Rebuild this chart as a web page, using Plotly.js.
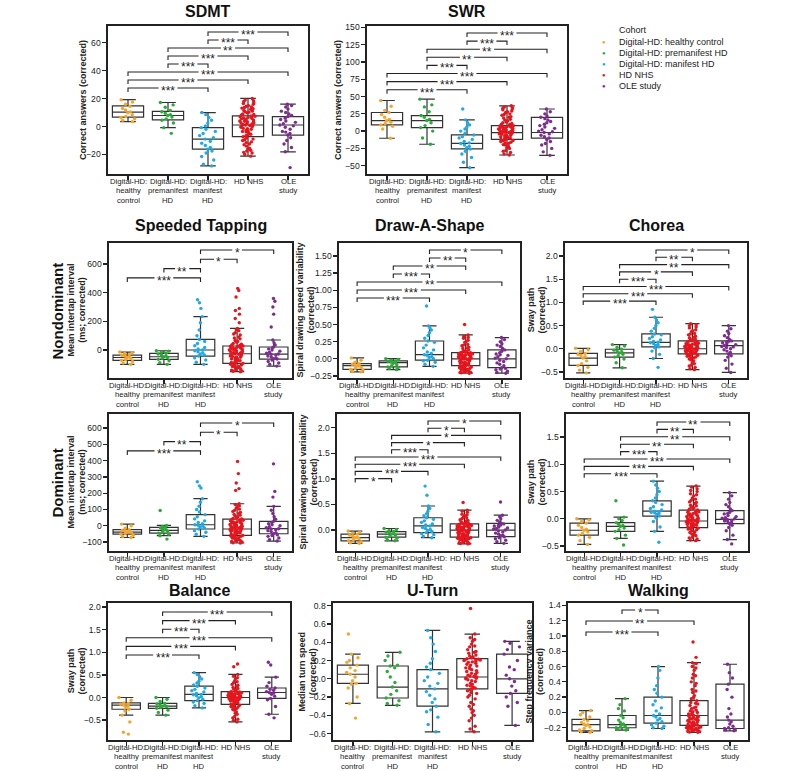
<!DOCTYPE html>
<html><head><meta charset="utf-8">
<script src="https://cdn.plot.ly/plotly-3.0.1.min.js"></script>
<style>html,body{margin:0;padding:0;background:#fff}#chart{width:800px;height:771px}</style>
</head><body><div id="chart"></div>
<script>
// ---------- data ----------
const cohorts = ['Digital-HD: healthy control','Digital-HD: premanifest HD','Digital-HD: manifest HD','HD NHS','OLE study'];
const tickLabels = ['Digital-HD:<br>healthy<br>control','Digital-HD:<br>premanifest<br>HD','Digital-HD:<br>manifest<br>HD','HD NHS','OLE<br>study'];
const cohortColors = ['#F5A52A','#2FA83A','#22A8E2','#E6151D','#7B2D8D'];

// box statistics per cohort: [lower whisker, Q1, median, Q3, upper whisker]
const sdmtBox = [[3.5,6.7,10.3,14.8,19.2],[-0.8,4.7,7.9,10.8,17.2],[-28.2,-16.2,-9,-0.8,10],[-21.2,-7.3,1.1,7.6,20.1],[-18.1,-6.1,1.1,7.1,16]];
const sdmtPoints = [
 [3.5,4.5,5.5,6.5,7.2,8.5,9.8,10.5,11.8,13.0,14.5,16.0,17.5,19.2],
 [-4.9,-0.8,2.5,4.5,5.5,6.8,7.9,8.5,9.5,10.6,11.5,13.8,15.5,17.2],
 [-28.2,-27,-24,-21.5,-19,-17.5,-16.2,-15,-13.5,-12,-10.5,-9,-8,-6.5,-5,-3.5,-2,-0.8,0.5,2.5,4.5,6.5,8.5,10],
 [-21.2,-20,-18.5,-17,-15.5,-14,-12.5,-11,-10,-9,-8.2,-7.3,-6.5,-5.5,-4.5,-3.5,-2.8,-2,-1.2,-0.5,0.2,0.8,1.1,1.6,2.2,2.8,3.4,4,4.6,5.2,5.8,6.4,7,7.6,8.3,9,9.8,10.6,11.5,12.3,13.2,14,15,16,17,18,19,20.1,-16,13.6,
  -19,-17.5,-13,-11.5,-9.5,-6,-4,-3,-1.5,0,0.5,1.4,2.5,3.1,3.7,4.3,5.5,6.1,6.7,7.3,8.7,10.2,11,12.8,14.5,16.5,18.5],
 [-29.4,-18.1,-15,-12.5,-10,-8,-6.1,-5,-3.5,-2,-0.5,0.5,1.1,2,3,4,5,6,7.1,8,9,10,11,12.5,14,15,16,-4]
];
const sdmtSig = [[2,4,'***'],[2,3,'***'],[1,4,'**'],[1,3,'***'],[1,2,'***'],[0,4,'***'],[0,3,'***'],[0,2,'***']];

const swrBox = [[-10.3,9,15.3,26.9,44.3],[-19,5.1,15.3,22.5,46.2],[-52.9,-25.8,-17.6,-5.5,16.3],[-34.5,-11.8,-2.1,8,36.6],[-35,-10,-2,20,32]];
const swrPoints = [
 [-10.3,3,7,9,11,13,15.3,17,20,24,27,30,36,44.3],
 [-19,-10,0,5.1,8,12,15.3,17,20,22.5,28,35,38,46.2],
 [-52.9,-45,-38,-33,-29,-26,-24,-22,-20,-18,-17,-15,-12,-10,-8,-5.5,-3,0,3,6,9,12,16.3,32],
 [-34.5,-31,-28,-25,-22,-19.5,-17,-15,-13.5,-12,-11,-10,-9,-8,-7,-6,-5,-4,-3,-2.1,-1.5,-0.5,0.5,1.5,2.5,3.5,4.5,5.5,6.5,8,9.5,11,13,15,17,19,21,23,25,27,29,31,33,35,36.6,-20,-14,0,4,7,
  -33,-29,-24,-18,-16,-12.5,-10.5,-8.5,-6.5,-4.5,-3.5,-2.5,-1,1,2,3,5,6,7.5,10,12,16,20,24,28,32,34],
 [-35,-30,-25,-20,-15,-12,-10,-8,-6,-4,-2,-1,0,2,4,6,8,10,12,14,16,18,20,22,25,28,32,-18]
];
const swrSig = [[2,4,'***'],[2,3,'***'],[1,4,'**'],[1,3,'**'],[1,2,'***'],[0,4,'***'],[0,3,'***'],[0,2,'***']];

const tapNdBox = [[-100,-72,-52,-36,-14],[-100,-65,-47,-23,-5],[-100,-42,0,74,233],[-151,-93,-26,28,151],[-112,-63,-28,21,70]];
const tapNdPoints = [
 [-100,-90,-80,-72,-66,-58,-52,-47,-42,-36,-30,-24,-18,-14],
 [-100,-88,-75,-65,-58,-52,-47,-42,-35,-28,-23,-15,-8,-5],
 [-100,-85,-70,-55,-42,-35,-28,-20,-12,-5,0,8,18,30,45,60,74,100,140,190,233,290,330,350],
 [-151,-145,-138,-130,-122,-115,-108,-100,-93,-86,-78,-70,-62,-55,-48,-42,-36,-30,-26,-20,-14,-8,-2,4,10,16,22,28,36,45,55,66,78,90,105,120,135,151,190,220,250,275,290,370,415,430,-120,-75,-40,0,
  -148,-140,-126,-112,-104,-96,-89,-82,-66,-58,-51,-45,-33,-23,-17,-11,-5,2,7,13,19,25,32,40,60,84,112,142],
 [-112,-100,-90,-80,-70,-63,-55,-48,-42,-35,-28,-22,-15,-8,0,8,15,21,35,50,70,160,250,300,340,360,-60,-30]
];
const tapNdSig = [[2,4,'*'],[2,3,'*'],[1,2,'**'],[0,2,'***']];

const shapeNdBox = [[-0.19,-0.153,-0.10,-0.07,0.013],[-0.158,-0.118,-0.055,-0.03,0.003],[-0.11,-0.02,0.06,0.26,0.48],[-0.21,-0.1,0.0,0.09,0.35],[-0.21,-0.13,0.0,0.13,0.31]];
const shapeNdPoints = [
 [-0.19,-0.18,-0.165,-0.153,-0.14,-0.125,-0.11,-0.10,-0.09,-0.08,-0.07,-0.05,-0.02,0.013],
 [-0.158,-0.14,-0.128,-0.118,-0.1,-0.085,-0.07,-0.055,-0.045,-0.038,-0.03,-0.02,-0.01,0.003],
 [-0.11,-0.08,-0.05,-0.03,-0.02,0.0,0.02,0.03,0.05,0.06,0.08,0.1,0.13,0.16,0.2,0.24,0.26,0.3,0.34,0.38,0.42,0.45,0.48,0.77],
 [-0.21,-0.2,-0.19,-0.18,-0.17,-0.16,-0.15,-0.14,-0.13,-0.12,-0.11,-0.1,-0.09,-0.08,-0.07,-0.06,-0.05,-0.04,-0.03,-0.02,-0.01,0.0,0.0,0.01,0.02,0.03,0.04,0.05,0.06,0.07,0.08,0.09,0.1,0.11,0.13,0.15,0.17,0.19,0.21,0.24,0.27,0.3,0.33,0.35,0.5,-0.12,-0.06,0.02,0.06,-0.2,
  -0.205,-0.185,-0.165,-0.145,-0.125,-0.105,-0.085,-0.065,-0.045,-0.025,-0.005,0.005,0.015,0.025,0.035,0.045,0.055,0.065,0.075,0.085,0.095,0.12,0.16,0.2,0.25,0.31],
 [-0.21,-0.2,-0.18,-0.16,-0.14,-0.13,-0.1,-0.08,-0.06,-0.04,-0.02,0.0,0.01,0.03,0.05,0.07,0.09,0.11,0.13,0.15,0.18,0.2,0.22,0.25,0.28,0.31,-0.15,0.06]
];
const shapeNdSig = [[2,4,'*'],[2,3,'**'],[1,3,'**'],[1,2,'***'],[0,4,'**'],[0,3,'***'],[0,2,'***']];

const choreaNdBox = [[-0.52,-0.36,-0.2,-0.1,0.01],[-0.41,-0.18,-0.09,-0.01,0.09],[-0.21,0.04,0.14,0.32,0.68],[-0.45,-0.11,0.0,0.17,0.54],[-0.51,-0.11,0.07,0.17,0.5]];
const choreaNdPoints = [
 [-0.52,-0.46,-0.4,-0.36,-0.32,-0.26,-0.2,-0.17,-0.14,-0.12,-0.1,-0.06,-0.02,0.01],
 [-0.41,-0.3,-0.22,-0.18,-0.15,-0.12,-0.09,-0.07,-0.05,-0.03,-0.01,0.03,0.06,0.09],
 [-0.40,-0.21,-0.12,-0.05,0.02,0.04,0.07,0.09,0.11,0.13,0.14,0.16,0.19,0.22,0.26,0.3,0.32,0.38,0.44,0.5,0.56,0.62,0.68,0.85],
 [-0.45,-0.4,-0.35,-0.3,-0.26,-0.22,-0.19,-0.16,-0.14,-0.12,-0.11,-0.1,-0.08,-0.07,-0.06,-0.05,-0.04,-0.03,-0.02,-0.01,0.0,0.01,0.02,0.03,0.04,0.05,0.06,0.07,0.08,0.09,0.1,0.12,0.14,0.15,0.17,0.19,0.21,0.24,0.27,0.3,0.33,0.37,0.41,0.45,0.5,0.54,-0.2,-0.09,0.02,0.11,
  -0.43,-0.37,-0.32,-0.24,-0.18,-0.15,-0.13,-0.105,-0.085,-0.065,-0.045,-0.025,-0.005,0.015,0.035,0.055,0.075,0.095,0.13,0.16,0.2,0.25,0.32,0.39,0.47,0.52],
 [-0.51,-0.42,-0.33,-0.25,-0.18,-0.11,-0.08,-0.05,-0.02,0.0,0.03,0.05,0.07,0.09,0.11,0.13,0.15,0.17,0.2,0.24,0.28,0.33,0.38,0.43,0.5,-0.15,0.04,0.16]
];
const choreaNdSig = [[2,4,'*'],[2,3,'**'],[1,4,'**'],[1,3,'*'],[1,2,'***'],[0,4,'***'],[0,3,'***'],[0,2,'***']];

const tapDBox = [[-72,-51,-39,-24,10],[-61,-45,-28,-10,2],[-65,-20,6,68,166],[-106,-59,-20,41,135],[-94,-49,-18,27,119]];
const tapDPoints = [
 [-72,-66,-58,-51,-47,-43,-39,-36,-32,-28,-24,-15,0,10],
 [-82,-61,-52,-45,-40,-34,-28,-24,-18,-13,-10,-4,2,94],
 [-65,-52,-40,-30,-20,-14,-8,-2,3,6,12,20,30,42,55,68,85,100,120,145,166,232,245,270],
 [-106,-100,-94,-88,-82,-76,-70,-64,-59,-54,-49,-44,-40,-36,-32,-28,-24,-20,-16,-12,-8,-4,0,5,10,15,20,25,30,36,41,50,60,70,82,95,110,122,135,217,228,262,320,395,-90,-65,-30,-10,18,45,
  -104,-97,-85,-73,-61,-52,-46,-38,-34,-26,-18,-14,-6,-2,3,8,13,23,28,34,39,55,65,76,88,102,116,130],
 [-94,-85,-75,-65,-56,-49,-42,-36,-30,-24,-18,-12,-6,0,6,12,20,27,40,55,75,95,119,176,211,380,-60,-20]
];
const tapDSig = [[2,4,'*'],[2,3,'*'],[1,2,'**'],[0,2,'***']];

const shapeDBox = [[-0.26,-0.21,-0.15,-0.08,-0.02],[-0.21,-0.14,-0.08,-0.03,0.03],[-0.15,-0.05,0.08,0.24,0.47],[-0.27,-0.14,0.0,0.12,0.39],[-0.26,-0.13,0.0,0.13,0.29]];
const shapeDPoints = [
 [-0.26,-0.25,-0.23,-0.21,-0.19,-0.17,-0.15,-0.14,-0.12,-0.1,-0.08,-0.06,-0.04,-0.02],
 [-0.21,-0.19,-0.16,-0.14,-0.12,-0.1,-0.08,-0.07,-0.05,-0.04,-0.03,-0.01,0.01,0.03],
 [-0.15,-0.12,-0.09,-0.07,-0.05,-0.03,-0.01,0.01,0.03,0.05,0.08,0.1,0.12,0.15,0.18,0.21,0.24,0.28,0.32,0.37,0.42,0.47,0.68,0.86],
 [-0.27,-0.26,-0.24,-0.22,-0.2,-0.18,-0.17,-0.16,-0.15,-0.14,-0.13,-0.12,-0.1,-0.09,-0.08,-0.07,-0.06,-0.05,-0.04,-0.03,-0.02,-0.01,0.0,0.01,0.02,0.03,0.04,0.05,0.06,0.07,0.08,0.09,0.1,0.11,0.12,0.14,0.16,0.18,0.2,0.22,0.25,0.28,0.31,0.35,0.39,0.54,-0.21,-0.11,0.0,0.06,
  -0.265,-0.25,-0.23,-0.19,-0.175,-0.155,-0.135,-0.115,-0.095,-0.075,-0.055,-0.035,-0.015,0.005,0.015,0.035,0.055,0.075,0.095,0.115,0.13,0.15,0.19,0.24,0.3,0.37],
 [-0.26,-0.23,-0.2,-0.17,-0.15,-0.13,-0.11,-0.08,-0.06,-0.04,-0.02,0.0,0.02,0.04,0.06,0.08,0.1,0.12,0.13,0.16,0.19,0.22,0.26,0.29,0.55,-0.1,0.03,0.09]
];
const shapeDSig = [[2,4,'*'],[2,3,'*'],[1,4,'*'],[1,3,'*'],[1,2,'***'],[0,4,'***'],[0,3,'***'],[0,2,'***'],[0,1,'*']];

const choreaDBox = [[-0.47,-0.3,-0.21,-0.08,0.0],[-0.36,-0.23,-0.14,-0.07,0.03],[-0.23,0.05,0.14,0.33,0.69],[-0.40,-0.16,-0.04,0.16,0.60],[-0.38,-0.09,-0.01,0.15,0.48]];
const choreaDPoints = [
 [-0.47,-0.4,-0.34,-0.3,-0.27,-0.24,-0.21,-0.19,-0.16,-0.12,-0.08,-0.05,-0.02,0.0],
 [-0.48,-0.36,-0.3,-0.23,-0.2,-0.17,-0.14,-0.12,-0.1,-0.07,-0.03,0.0,0.03,0.33],
 [-0.43,-0.23,-0.15,-0.05,0.02,0.05,0.08,0.1,0.12,0.13,0.14,0.16,0.19,0.22,0.26,0.3,0.33,0.38,0.44,0.5,0.56,0.62,0.69,0.11],
 [-0.40,-0.37,-0.34,-0.31,-0.28,-0.25,-0.22,-0.2,-0.18,-0.16,-0.15,-0.13,-0.12,-0.1,-0.09,-0.08,-0.07,-0.06,-0.05,-0.04,-0.03,-0.02,-0.01,0.0,0.02,0.04,0.06,0.08,0.1,0.12,0.14,0.16,0.18,0.2,0.22,0.25,0.28,0.31,0.34,0.38,0.42,0.46,0.5,0.55,0.6,-0.3,-0.11,0.0,0.05,0.13,
  -0.39,-0.35,-0.29,-0.24,-0.19,-0.17,-0.14,-0.115,-0.095,-0.075,-0.055,-0.035,-0.015,0.01,0.03,0.05,0.07,0.09,0.11,0.15,0.19,0.24,0.3,0.36,0.44,0.52,0.58],
 [-0.46,-0.38,-0.3,-0.22,-0.16,-0.12,-0.09,-0.07,-0.05,-0.03,-0.01,0.0,0.02,0.04,0.06,0.09,0.12,0.15,0.18,0.22,0.26,0.3,0.36,0.42,0.48,-0.04,0.01,0.1]
];
const choreaDSig = [[2,4,'**'],[2,3,'**'],[1,4,'**'],[1,3,'**'],[1,2,'***'],[0,4,'***'],[0,3,'***'],[0,2,'***']];

const balanceBox = [[-0.39,-0.26,-0.17,-0.12,0.0],[-0.39,-0.24,-0.19,-0.13,0.0],[-0.23,-0.07,0.07,0.25,0.55],[-0.54,-0.15,0.0,0.13,0.51],[-0.37,-0.02,0.11,0.21,0.45]];
const balancePoints = [
 [-0.81,-0.77,-0.54,-0.39,-0.3,-0.26,-0.22,-0.19,-0.17,-0.15,-0.13,-0.12,-0.06,0.0],
 [-0.39,-0.33,-0.28,-0.24,-0.22,-0.2,-0.19,-0.18,-0.16,-0.14,-0.13,-0.09,-0.04,0.0],
 [-0.23,-0.18,-0.13,-0.1,-0.07,-0.04,-0.01,0.02,0.04,0.06,0.07,0.09,0.12,0.15,0.18,0.21,0.25,0.28,0.32,0.36,0.41,0.46,0.51,0.55],
 [-0.54,-0.48,-0.42,-0.37,-0.32,-0.28,-0.25,-0.22,-0.19,-0.17,-0.15,-0.13,-0.11,-0.09,-0.07,-0.06,-0.05,-0.04,-0.03,-0.02,-0.01,0.0,0.01,0.02,0.03,0.04,0.05,0.06,0.07,0.08,0.09,0.1,0.11,0.12,0.13,0.16,0.19,0.22,0.25,0.29,0.33,0.37,0.42,0.47,0.51,0.68,0.74,-0.2,0.0,0.05,
  -0.51,-0.45,-0.35,-0.26,-0.21,-0.16,-0.12,-0.1,-0.08,-0.055,-0.035,-0.015,0.005,0.015,0.025,0.045,0.065,0.085,0.105,0.125,0.14,0.2,0.27,0.35,0.44],
 [-0.45,-0.37,-0.2,-0.05,-0.02,0.03,0.07,0.1,0.11,0.13,0.16,0.18,0.21,0.25,0.33,0.45,0.72,0.78]
];
const balanceSig = [[1,4,'***'],[1,3,'***'],[1,2,'***'],[0,4,'***'],[0,3,'***'],[0,2,'***']];

const uturnBox = [[-0.27,-0.05,0.05,0.15,0.27],[-0.29,-0.21,-0.09,0.14,0.29],[-0.58,-0.30,-0.11,0.10,0.53],[-0.58,-0.11,0.02,0.22,0.49],[-0.51,-0.16,0.0,0.27,0.41]];
const uturnPoints = [
 [-0.43,-0.27,-0.2,-0.1,-0.05,-0.02,0.02,0.05,0.07,0.09,0.12,0.15,0.18,0.2,0.23,0.27,0.49,-0.06],
 [-0.29,-0.27,-0.24,-0.21,-0.17,-0.13,-0.09,-0.04,0.02,0.08,0.12,0.14,0.15,0.2,0.25,0.29],
 [-0.58,-0.5,-0.42,-0.36,-0.3,-0.26,-0.22,-0.18,-0.14,-0.11,-0.08,-0.05,-0.02,0.02,0.06,0.1,0.13,0.17,0.22,0.3,0.38,0.45,0.53,-0.34],
 [-0.58,-0.52,-0.46,-0.4,-0.35,-0.3,-0.26,-0.22,-0.18,-0.15,-0.13,-0.11,-0.09,-0.07,-0.05,-0.03,-0.01,0.0,0.01,0.02,0.03,0.05,0.07,0.09,0.11,0.13,0.15,0.17,0.19,0.2,0.21,0.22,0.24,0.26,0.29,0.32,0.35,0.38,0.41,0.45,0.49,0.77,-0.2,-0.08,0.04,0.1,0.18,0.21,-0.33,0.28,
  -0.55,-0.43,-0.37,-0.28,-0.16,-0.12,-0.1,-0.06,-0.02,0.005,0.025,0.06,0.08,0.12,0.14,0.16,0.185,0.205,0.215,0.23,0.25,0.3,0.36,0.43],
 [-0.51,-0.3,-0.26,-0.2,-0.16,-0.13,-0.08,-0.03,0.0,0.04,0.1,0.13,0.2,0.27,0.32,0.35,0.39,0.41]
];
const uturnSig = [];

const walkingBox = [[-0.26,-0.24,-0.16,-0.09,0.025],[-0.23,-0.2,-0.16,-0.04,0.18],[-0.21,-0.14,-0.04,0.2,0.6],[-0.26,-0.17,-0.04,0.155,0.65],[-0.24,-0.21,-0.10,0.37,0.63]];
const walkingPoints = [
 [-0.26,-0.25,-0.24,-0.23,-0.21,-0.19,-0.17,-0.16,-0.15,-0.13,-0.11,-0.09,-0.06,-0.03,0.0,0.025],
 [-0.23,-0.22,-0.21,-0.2,-0.19,-0.18,-0.16,-0.15,-0.13,-0.1,-0.07,-0.04,0.02,0.05,0.1,0.18],
 [-0.21,-0.2,-0.18,-0.16,-0.14,-0.12,-0.1,-0.08,-0.06,-0.04,-0.02,0.02,0.06,0.1,0.15,0.2,0.25,0.3,0.35,0.45,0.55,0.6],
 [-0.26,-0.25,-0.24,-0.23,-0.22,-0.21,-0.2,-0.19,-0.18,-0.17,-0.16,-0.15,-0.14,-0.13,-0.12,-0.11,-0.1,-0.09,-0.08,-0.07,-0.06,-0.05,-0.04,-0.03,-0.01,0.01,0.03,0.05,0.07,0.09,0.11,0.13,0.155,0.18,0.22,0.26,0.3,0.35,0.4,0.45,0.5,0.55,0.6,0.65,0.72,0.92,-0.2,-0.15,-0.1,0.0,
  -0.255,-0.245,-0.235,-0.225,-0.215,-0.205,-0.195,-0.185,-0.175,-0.165,-0.145,-0.125,-0.105,-0.085,-0.065,-0.045,-0.02,0.02,0.06,0.12,0.2,0.28,0.38,0.48,0.58,0.64],
 [-0.24,-0.23,-0.22,-0.21,-0.2,-0.18,-0.15,-0.12,-0.1,-0.06,-0.02,0.05,0.2,0.3,0.37,0.45,0.52,0.63]
];
const walkingSig = [[1,2,'*'],[0,3,'**'],[0,2,'***']];

// ---------- layout configuration ----------
const W = 800, H = 771;
const FONT = 'Liberation Sans, Arial, Helvetica, sans-serif';
const INK = '#222';
const panels = [
 {title:'SDMT', ytitle:'Correct answers (corrected)', box:sdmtBox, pts:sdmtPoints, sig:sdmtSig, range:[-34,72], dtick:20, fmt:'', px:[108,308,26,174], ytx:83, sigTop:6, sigStep:8, titleY:12},
 {title:'SWR', ytitle:'Correct answers (corrected)', box:swrBox, pts:swrPoints, sig:swrSig, range:[-62,152], dtick:25, fmt:'', px:[367,567,26,174], ytx:338, sigTop:7, sigStep:8.1, titleY:12},
 {title:'Speeded Tapping', ytitle:'Mean intertap interval<br>(ms; corrected)', box:tapNdBox, pts:tapNdPoints, sig:tapNdSig, range:[-195,746], dtick:200, fmt:'', px:[109,292,243,378], ytx:76, sigTop:7, sigStep:9.3, titleY:225},
 {title:'Draw-A-Shape', ytitle:'Spiral drawing speed variability<br>(corrected)', box:shapeNdBox, pts:shapeNdPoints, sig:shapeNdSig, range:[-0.28,1.69], dtick:0.25, fmt:'.2f', px:[339,520,243,378], ytx:305, sigTop:7, sigStep:8, titleY:225},
 {title:'Chorea', ytitle:'Sway path<br>(corrected)', box:choreaNdBox, pts:choreaNdPoints, sig:choreaNdSig, range:[-0.63,2.28], dtick:0.5, fmt:'.1f', px:[565,747,243,378], ytx:536, sigTop:7, sigStep:7.3, titleY:225},
 {title:'', ytitle:'Mean intertap interval<br>(ms; corrected)', box:tapDBox, pts:tapDPoints, sig:tapDSig, range:[-155,686], dtick:100, fmt:'', px:[109,292,414,551], ytx:76, sigTop:9, sigStep:9.3},
 {title:'', ytitle:'Spiral drawing speed variability<br>(corrected)', box:shapeDBox, pts:shapeDPoints, sig:shapeDSig, range:[-0.41,2.27], dtick:0.5, fmt:'.1f', px:[337,519,414,551], ytx:308, sigTop:7, sigStep:7.2},
 {title:'', ytitle:'Sway path<br>(corrected)', box:choreaDBox, pts:choreaDPoints, sig:choreaDSig, range:[-0.59,1.92], dtick:0.5, fmt:'.1f', px:[566,748,414,551], ytx:536, sigTop:8, sigStep:7.4},
 {title:'Balance', ytitle:'Sway path<br>(corrected)', box:balanceBox, pts:balancePoints, sig:balanceSig, range:[-0.94,2.09], dtick:0.5, fmt:'.1f', px:[108,290,603,740], ytx:76, sigTop:9, sigStep:8.6, titleY:590},
 {title:'U-Turn', ytitle:'Median turn speed<br>(corrected)', box:uturnBox, pts:uturnPoints, sig:uturnSig, range:[-0.67,0.83], dtick:0.2, fmt:'.1f', px:[333,532,603,740], ytx:307, sigTop:7, sigStep:8, titleY:590},
 {title:'Walking', ytitle:'Step frequency variance<br>(corrected)', box:walkingBox, pts:walkingPoints, sig:walkingSig, range:[-0.36,1.43], dtick:0.2, fmt:'.1f', px:[568,748,603,740], ytx:534, sigTop:7, sigStep:11, titleY:590}
];

const traces = [], shapes = [], annotations = [];
const layout = {
  width: W, height: H, margin:{l:0,r:0,t:0,b:0}, showlegend:false,
  paper_bgcolor:'#fff', plot_bgcolor:'#fff', boxmode:'overlay',
  font:{family:FONT, color:INK}, hovermode:false
};
const bw = 0.78;
const TICK_GAP = 7.5, TICK_LINE = 9.3;

panels.forEach((p, k) => {
  const n = k + 1;
  const sfx = n === 1 ? '' : String(n);
  const xa = 'x' + sfx, ya = 'y' + sfx;
  const [L, R, T, B] = p.px;
  const hPx = B - T, wPx = R - L;
  layout['xaxis' + sfx] = {
    domain:[L/W, R/W], anchor:ya, range:[-0.5,4.5], tickvals:[0,1,2,3,4], showticklabels:false,
    showline:true, mirror:true, linecolor:INK, linewidth:1.6, ticks:'outside', ticklen:4, tickwidth:1.3, tickcolor:INK,
    showgrid:false, zeroline:false, fixedrange:true
  };
  layout['yaxis' + sfx] = {
    domain:[1-B/H, 1-T/H], anchor:xa, range:p.range, dtick:p.dtick, tick0:0, tickformat:p.fmt,
    showline:true, mirror:true, linecolor:INK, linewidth:1.6, ticks:'outside', ticklen:4, tickwidth:1.3, tickcolor:INK,
    showgrid:false, zeroline:false, tickfont:{size:8.6, family:FONT, color:INK}, fixedrange:true
  };
  // category labels under each tick (compact line spacing)
  tickLabels.forEach((lab, i) => {
    lab.split('<br>').forEach((line, l) => {
      annotations.push({xref:xa, yref:'paper', x:i, y:1 - (B + TICK_GAP + l*TICK_LINE)/H, text:line,
        showarrow:false, xanchor:'center', yanchor:'middle', font:{size:7.7, family:FONT, color:'#222222'}});
    });
  });
  // boxes from the summary statistics
  traces.push({
    type:'box', xaxis:xa, yaxis:ya, x:[0,1,2,3,4],
    lowerfence:p.box.map(b=>b[0]), q1:p.box.map(b=>b[1]), median:p.box.map(b=>b[2]),
    q3:p.box.map(b=>b[3]), upperfence:p.box.map(b=>b[4]),
    width:bw, whiskerwidth:0.5, boxpoints:false,
    line:{color:'#333', width:1.2}, fillcolor:'rgba(0,0,0,0)', hoverinfo:'skip'
  });
  // jittered observations
  p.pts.forEach((vals, i) => {
    traces.push({
      type:'box', xaxis:xa, yaxis:ya, x:vals.map(()=>i), y:vals,
      boxpoints:'all', jitter:0.55, pointpos:0, width:bw,
      line:{width:0, color:'rgba(0,0,0,0)'}, fillcolor:'rgba(0,0,0,0)',
      marker:{color:cohortColors[i], size:3.4, line:{width:0}}, hoverinfo:'skip'
    });
  });
  // significance brackets
  const pxPerUnit = wPx / 5;
  p.sig.forEach((s, j) => {
    const [a, b, label] = s;
    const ypx = p.sigTop + j * p.sigStep;
    const yl = 1 - ypx / hPx, yt = 1 - (ypx + 4) / hPx;
    const c = (a + b) / 2;
    const g = (2.5 + label.length * 2.3) / pxPerUnit;
    shapes.push({type:'path', xref:xa, yref:ya + ' domain',
      path:`M ${a},${yt} L ${a},${yl} L ${c-g},${yl} M ${c+g},${yl} L ${b},${yl} L ${b},${yt}`,
      line:{color:INK, width:1.1}});
    annotations.push({xref:xa, yref:ya + ' domain', x:c, y:yl, text:label, showarrow:false,
      xanchor:'center', yanchor:'middle', yshift:-3, font:{size:12, family:FONT, color:INK}});
  });
  // panel title
  if (p.title) {
    annotations.push({xref:'paper', yref:'paper', x:(L+R)/2/W, y:1 - p.titleY/H, text:'<b>' + p.title + '</b>',
      showarrow:false, xanchor:'center', yanchor:'middle', font:{size:16, family:FONT, color:'#111'}});
  }
  // y-axis title
  annotations.push({xref:'paper', yref:'paper', x:p.ytx/W, y:1 - (T+B)/2/H,
    text:'<b>' + p.ytitle.split('<br>').join('</b><br><b>') + '</b>', textangle:-90,
    showarrow:false, xanchor:'center', yanchor:'middle', font:{size:9, family:FONT, color:INK}});
});

// row labels
[['Nondominant', 310.5], ['Dominant', 482.5]].forEach(([t, yc]) => {
  annotations.push({xref:'paper', yref:'paper', x:57/W, y:1 - yc/H, text:'<b>' + t + '</b>', textangle:-90,
    showarrow:false, xanchor:'center', yanchor:'middle', font:{size:15, family:FONT, color:'#111'}});
});

// legend
annotations.push({xref:'paper', yref:'paper', x:617/W, y:1 - 30/H, text:'Cohort', showarrow:false,
  xanchor:'left', yanchor:'middle', font:{size:9, family:FONT, color:INK}});
cohorts.forEach((c, i) => {
  const yc = 42 + i * 10.9;
  annotations.push({xref:'paper', yref:'paper', x:604/W, y:1 - yc/H, text:'●', showarrow:false,
    xanchor:'center', yanchor:'middle', font:{size:6, family:FONT, color:cohortColors[i]}});
  annotations.push({xref:'paper', yref:'paper', x:617/W, y:1 - yc/H, text:c, showarrow:false,
    xanchor:'left', yanchor:'middle', font:{size:9, family:FONT, color:INK}});
});

layout.shapes = shapes;
layout.annotations = annotations;
Plotly.newPlot('chart', traces, layout, {staticPlot:true, displayModeBar:false});
</script></body></html>
